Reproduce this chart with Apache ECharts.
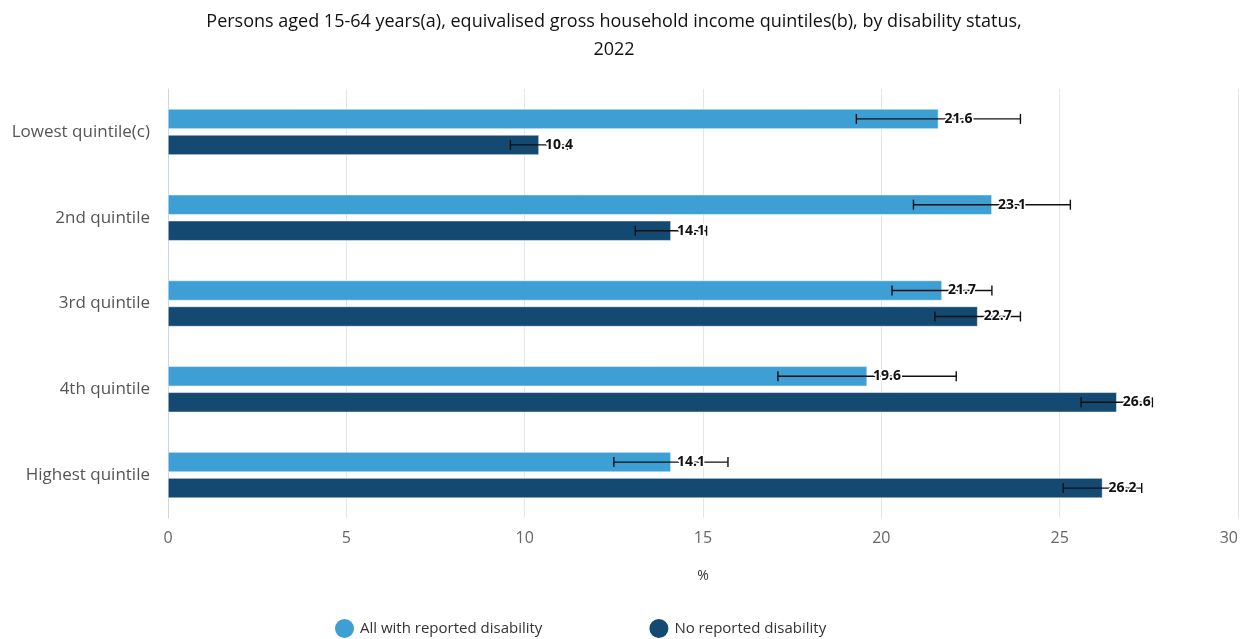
<!DOCTYPE html>
<html>
<head>
<meta charset="utf-8">
<script src="https://cdn.jsdelivr.net/npm/echarts@6/dist/echarts.min.js"></script>
<style>
  html, body { margin: 0; padding: 0; background: #fff; }
  #chart { width: 1251px; height: 639px; }
</style>
</head>
<body>
<div id="chart"></div>
<script>
// Income quintiles (top to bottom)
const categories = ['Lowest quintile(c)', '2nd quintile', '3rd quintile', '4th quintile', 'Highest quintile'];

// Percentage of persons in each quintile
const disabilityValues = [21.6, 23.1, 21.7, 19.6, 14.1];
const noDisabilityValues = [10.4, 14.1, 22.7, 26.6, 26.2];

// 95% confidence intervals [low, high]
const disabilityLow = [19.3, 20.9, 20.3, 17.1, 12.5];
const disabilityHigh = [23.9, 25.3, 23.1, 22.1, 15.7];
const noDisabilityLow = [9.6, 13.1, 21.5, 25.6, 25.1];
const noDisabilityHigh = [11.2, 15.1, 23.9, 27.6, 27.3];

const xTicks = { min: 0, max: 30, interval: 5 };

const seriesNames = ['All with reported disability', 'No reported disability'];
const colors = ['#3d9fd4', '#144a72'];

const FONT = '"Open Sans", "Noto Sans", sans-serif';
const BAR_WIDTH = 20;
const BAR_GAP = '30%';

function errorSeries(idx, values, lows, highs) {
  const data = categories.map((c, i) => [values[i], i, lows[i], highs[i]]);
  return {
    type: 'custom',
    name: seriesNames[idx] + ' error',
    z: 5,
    silent: true,
    encode: { x: [0, 2, 3], y: 1 },
    data: data,
    renderItem: function (params, api) {
      const layout = api.barLayout({ count: 2, barWidth: BAR_WIDTH, barGap: BAR_GAP });
      const off = layout[idx].offsetCenter;
      const cat = api.value(1);
      const val = api.value(0);
      const lo = api.coord([api.value(2), cat]);
      const hi = api.coord([api.value(3), cat]);
      const end = api.coord([val, cat]);
      const y = lo[1] + off;
      const cap = 5;
      const lineStyle = { stroke: '#111', lineWidth: 1.4, fill: null };
      return {
        type: 'group',
        children: [
          { type: 'line', shape: { x1: lo[0], y1: y, x2: hi[0], y2: y }, style: lineStyle },
          { type: 'line', shape: { x1: lo[0], y1: y - cap, x2: lo[0], y2: y + cap }, style: lineStyle },
          { type: 'line', shape: { x1: hi[0], y1: y - cap, x2: hi[0], y2: y + cap }, style: lineStyle },
          {
            type: 'text',
            x: end[0] + 6,
            y: y,
            style: {
              text: val.toFixed(1),
              fill: '#111',
              stroke: '#fff',
              lineWidth: 3,
              font: 'bold 14px ' + FONT,
              verticalAlign: 'middle',
              align: 'left'
            }
          }
        ]
      };
    }
  };
}

const chart = echarts.init(document.getElementById('chart'), null, { renderer: 'canvas' });

chart.setOption({
  animation: false,
  backgroundColor: '#fff',
  textStyle: { fontFamily: FONT },
  title: {
    text: 'Persons aged 15-64 years(a), equivalised gross household income quintiles(b), by disability status,\n2022',
    left: 609,
    textAlign: 'center',
    top: 3,
    textStyle: { fontSize: 18, fontWeight: 'normal', color: '#111', lineHeight: 28, fontFamily: FONT }
  },
  legend: {
    data: seriesNames,
    left: 328,
    top: 612,
    icon: 'circle',
    itemWidth: 21,
    itemHeight: 21,
    itemGap: 105,
    textStyle: { fontSize: 15, color: '#333', fontFamily: FONT }
  },
  grid: { left: 168, right: 13, top: 89, bottom: 121, containLabel: false },
  xAxis: {
    type: 'value',
    min: xTicks.min,
    max: xTicks.max,
    interval: xTicks.interval,
    name: '%',
    nameLocation: 'middle',
    nameGap: 51,
    nameTextStyle: { fontSize: 14, color: '#333', fontFamily: FONT },
    axisLine: { show: false },
    axisTick: { show: false },
    axisLabel: { fontSize: 16, color: '#666', margin: 12, fontFamily: FONT, alignMaxLabel: 'right' },
    splitLine: { show: true, lineStyle: { color: '#e6e6e6', width: 1 } }
  },
  yAxis: {
    type: 'category',
    data: categories,
    inverse: true,
    axisLine: { show: true, lineStyle: { color: '#ccd6eb', width: 1 } },
    axisTick: { show: false },
    axisLabel: { fontSize: 17, color: '#555', margin: 18, fontFamily: FONT }
  },
  series: [
    {
      type: 'bar',
      name: seriesNames[0],
      data: disabilityValues,
      barWidth: BAR_WIDTH,
      barGap: BAR_GAP,
      itemStyle: { color: colors[0], borderColor: '#fff', borderWidth: 0.5 },
      z: 2
    },
    {
      type: 'bar',
      name: seriesNames[1],
      data: noDisabilityValues,
      barWidth: BAR_WIDTH,
      barGap: BAR_GAP,
      itemStyle: { color: colors[1], borderColor: '#fff', borderWidth: 0.5 },
      z: 2
    },
    errorSeries(0, disabilityValues, disabilityLow, disabilityHigh),
    errorSeries(1, noDisabilityValues, noDisabilityLow, noDisabilityHigh)
  ]
});
</script>
</body>
</html>
